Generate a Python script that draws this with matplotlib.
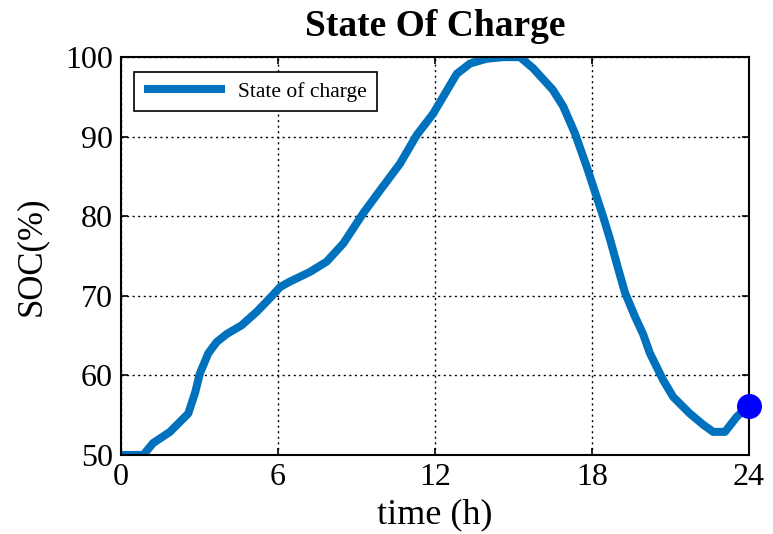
import matplotlib
matplotlib.use("Agg")
import matplotlib.pyplot as plt

hours = [0, 0.85, 1.23, 1.87, 2.57, 2.83, 3.02, 3.34, 3.66, 4.04, 4.61, 5.19, 5.69, 6.08,
         6.46, 7.22, 7.86, 8.5, 9.26, 10.0, 10.66, 11.3, 11.93, 12.83, 13.34, 13.97, 14.6,
         15.25, 15.75, 16.5, 16.9, 17.35, 17.8, 18.18, 18.43, 18.68, 19.0, 19.26, 19.64,
         19.95, 20.21, 20.72, 21.1, 21.74, 22.25, 22.63, 23.08, 23.53, 24.0]
soc = [50, 50, 51.5, 52.9, 55.2, 57.8, 60.3, 62.8, 64.2, 65.2, 66.3, 68.0, 69.7, 71.1,
       71.8, 73.0, 74.3, 76.6, 80.4, 83.7, 86.6, 90.2, 92.9, 97.9, 99.2, 99.8, 100,
       100, 98.6, 95.9, 93.8, 90.4, 86.2, 82.4, 79.9, 77.2, 73.4, 70.4, 67.4,
       65.2, 62.8, 59.4, 57.3, 55.2, 53.8, 52.9, 52.9, 54.8, 56.2]
end_point = (24.0, 56.2)
xticks = [0, 6, 12, 18, 24]
yticks = [50, 60, 70, 80, 90, 100]

plt.rcParams['font.family'] = ['Liberation Serif', 'DejaVu Serif']

fig = plt.figure(figsize=(7.73, 5.34), dpi=100)
ax = fig.add_axes([0.1565, 0.148, 0.8125, 0.745])

ax.plot(hours, soc, color='#0072BD', linewidth=5.8, label='State of charge',
        solid_capstyle='butt', solid_joinstyle='round')
ax.plot([end_point[0]], [end_point[1]], 'o', color='#0000FF', markersize=17,
        clip_on=False, zorder=5)

ax.set_xlim(0, 24)
ax.set_ylim(50, 100)
ax.set_xticks(xticks)
ax.set_yticks(yticks)
ax.tick_params(direction='in', top=True, right=True, length=5, width=1.2,
               labelsize=23, pad=6)
ax.grid(True, color='black', linestyle=(0, (1.5, 2.5)), linewidth=1.0)
for s in ax.spines.values():
    s.set_linewidth(1.5)

ax.set_xlabel('time (h)', fontsize=26, labelpad=4)
ax.set_ylabel('SOC(%)', fontsize=25, labelpad=12)
ax.set_title('State Of Charge', fontsize=27, fontweight='bold', pad=15)

leg = ax.legend(loc='upper left', fontsize=15.5, fancybox=False, framealpha=1,
                edgecolor='black', handlelength=3.8, handletextpad=0.6,
                borderpad=0.45, bbox_to_anchor=(0.0, 0.995), borderaxespad=0.6)
leg.get_frame().set_linewidth(1.2)

fig.savefig('out.png', dpi=100)
